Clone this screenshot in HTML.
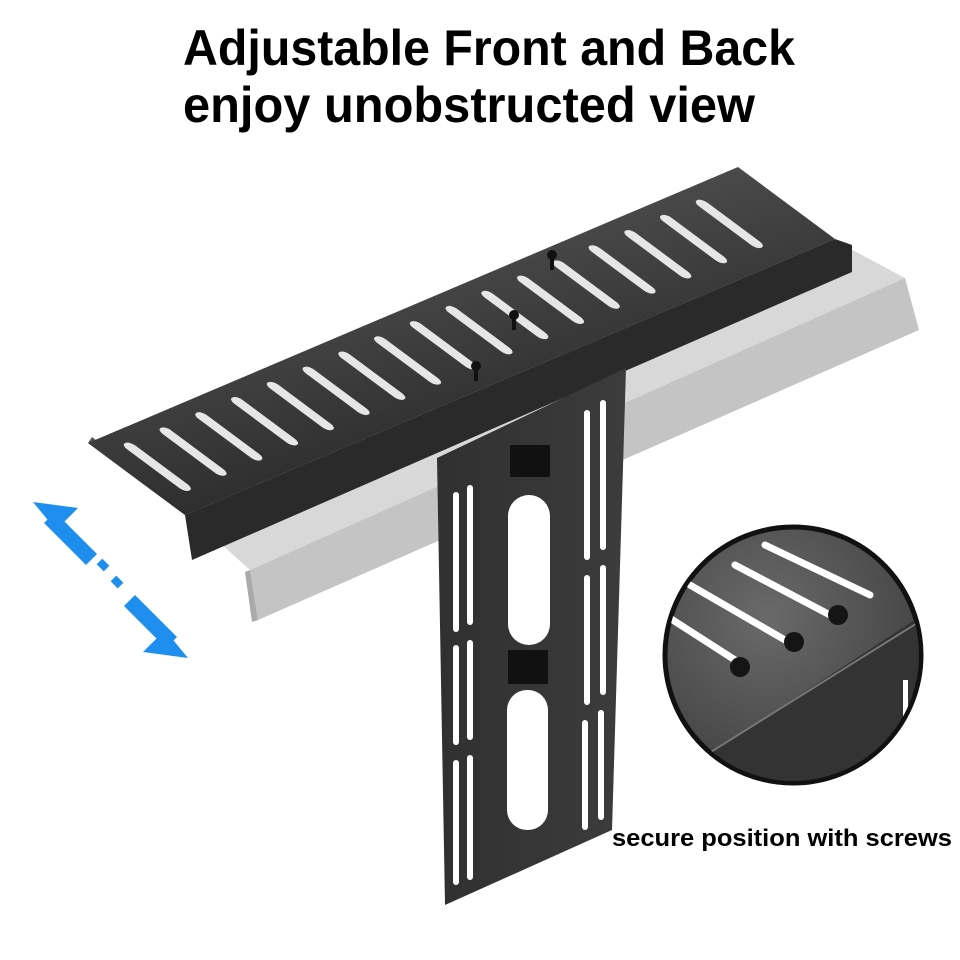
<!DOCTYPE html>
<html><head><meta charset="utf-8"><style>html,body{margin:0;padding:0;background:#fff}svg{display:block}</style></head>
<body>
<svg width="960" height="960" viewBox="0 0 960 960" xmlns="http://www.w3.org/2000/svg">
<defs>
<linearGradient id="top" x1="0" y1="1" x2="1" y2="0"><stop offset="0" stop-color="#2e2e2e"/><stop offset="1" stop-color="#4a4a4a"/></linearGradient>
<linearGradient id="plate" x1="0" y1="0" x2="1" y2="0"><stop offset="0" stop-color="#303030"/><stop offset="1" stop-color="#3c3c3c"/></linearGradient>
<radialGradient id="circ" cx="0.4" cy="0.35" r="0.8"><stop offset="0" stop-color="#6a6a6a"/><stop offset="1" stop-color="#3a3a3a"/></radialGradient>
<clipPath id="cc"><circle cx="793" cy="655" r="126"/></clipPath>
</defs>
<text x="183" y="65" font-family="Liberation Sans, sans-serif" font-weight="bold" font-size="50" textLength="612" lengthAdjust="spacingAndGlyphs">Adjustable Front and Back</text>
<text x="183" y="122" font-family="Liberation Sans, sans-serif" font-weight="bold" font-size="50" textLength="572" lengthAdjust="spacingAndGlyphs">enjoy unobstructed view</text>

<!-- ghost shelf -->
<g>
<polygon points="150,480 800,222 905,278 250,570" fill="#d8d8d8"/>
<polygon points="250,570 905,278 919,330 258,620" fill="#c4c4c4"/>
<polygon points="250,570 258,620 252,622 245,572" fill="#aaa"/>
</g>
<!-- shelf lip -->
<polygon points="185,515 835,239 852,245 852,272 192,560" fill="#2a2a2a"/>
<polygon points="88,443 92,437 185,509 185,515" fill="#555"/>
<!-- shelf top -->
<g transform="matrix(0.65,-0.276,0.97,0.72,88,443)">
<rect x="0" y="0" width="1000" height="100" fill="url(#top)"/>
<g fill="#e6e6e6">
<rect x="30" y="14" width="13" height="66" rx="6"/>
<rect x="85" y="14" width="13" height="66" rx="6"/>
<rect x="140" y="14" width="13" height="66" rx="6"/>
<rect x="195" y="14" width="13" height="66" rx="6"/>
<rect x="250" y="14" width="13" height="66" rx="6"/>
<rect x="305" y="14" width="13" height="66" rx="6"/>
<rect x="360" y="14" width="13" height="66" rx="6"/>
<rect x="415" y="14" width="13" height="66" rx="6"/>
<rect x="470" y="14" width="13" height="66" rx="6"/>
<rect x="525" y="14" width="13" height="66" rx="6"/>
<rect x="580" y="14" width="13" height="66" rx="6"/>
<rect x="635" y="14" width="13" height="66" rx="6"/>
<rect x="690" y="14" width="13" height="66" rx="6"/>
<rect x="745" y="14" width="13" height="66" rx="6"/>
<rect x="800" y="14" width="13" height="66" rx="6"/>
<rect x="855" y="14" width="13" height="66" rx="6"/>
<rect x="910" y="14" width="13" height="66" rx="6"/>
</g>
</g>
<!-- screws -->
<g fill="#111"><circle cx="476" cy="366" r="5"/><rect x="474" y="366" width="4" height="15"/>
<circle cx="514" cy="315" r="5"/><rect x="512" y="315" width="4" height="15"/>
<circle cx="552" cy="255" r="5"/><rect x="550" y="255" width="4" height="15"/></g>

<!-- plate -->
<polygon points="437,458 626,368 612,830 445,905" fill="url(#plate)"/>
<g fill="#fff">
<rect x="453" y="492" width="6" height="140" rx="3"/><rect x="467" y="485" width="6" height="140" rx="3"/>
<rect x="453" y="645" width="6" height="100" rx="3"/><rect x="467" y="640" width="6" height="100" rx="3"/>
<rect x="453" y="760" width="6" height="125" rx="3"/><rect x="467" y="755" width="6" height="125" rx="3"/>
<rect x="584" y="410" width="6" height="150" rx="3"/><rect x="600" y="400" width="6" height="150" rx="3"/>
<rect x="584" y="575" width="6" height="130" rx="3"/><rect x="600" y="565" width="6" height="130" rx="3"/>
<rect x="582" y="720" width="6" height="110" rx="3"/><rect x="598" y="710" width="6" height="110" rx="3"/>
<rect x="508" y="495" width="42" height="150" rx="21"/>
<rect x="507" y="690" width="41" height="140" rx="20"/>
</g>
<g fill="#111"><rect x="510" y="445" width="40" height="32"/><rect x="508" y="650" width="40" height="34"/></g>

<!-- arrow -->
<g fill="#1e8fef">
<polygon points="33,502 78,508 66,520 56,530"/>
<polygon points="55,512 97,554 86,565 44,523"/>
<polygon points="188,658 143,652 155,640 165,630"/>
<polygon points="166,648 124,606 135,595 177,637"/>
<rect x="99" y="560" width="8" height="10" transform="rotate(-45 103 565)"/>
<rect x="113" y="577" width="8" height="10" transform="rotate(-45 117 582)"/>
</g>

<!-- inset circle -->
<circle cx="793" cy="655" r="128" fill="url(#circ)" stroke="#111" stroke-width="5"/>
<g clip-path="url(#cc)">
<polygon points="700,760 930,610 930,800 700,800" fill="#333"/>
<line x1="690" y1="765" x2="930" y2="615" stroke="#777" stroke-width="2"/>
<g stroke="#fff" stroke-width="7" stroke-linecap="round">
<line x1="665" y1="615" x2="735" y2="660"/><line x1="690" y1="585" x2="785" y2="640"/>
<line x1="735" y1="565" x2="830" y2="615"/><line x1="765" y1="545" x2="870" y2="595"/>
</g>
<g fill="#151515"><circle cx="740" cy="667" r="10"/><circle cx="794" cy="642" r="10"/><circle cx="838" cy="615" r="10"/></g>
<rect x="903" y="680" width="5" height="50" fill="#fff"/>
</g>

<text x="612" y="846" font-family="Liberation Sans, sans-serif" font-weight="bold" font-size="24" textLength="340" lengthAdjust="spacingAndGlyphs">secure position with screws</text>
</svg>
</body></html>
